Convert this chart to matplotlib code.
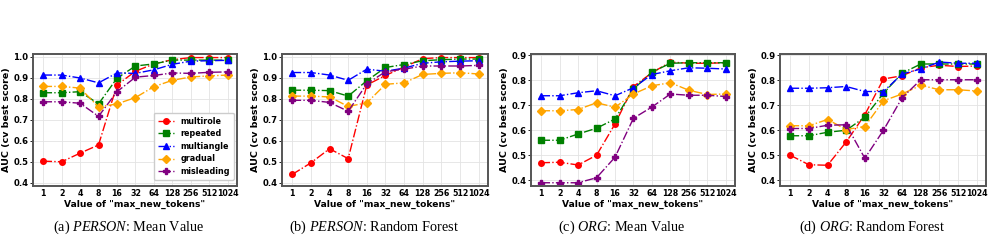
import matplotlib
matplotlib.use("Agg")
import matplotlib.pyplot as plt

plt.rcParams['font.family'] = ['DejaVu Sans']
plt.rcParams['mathtext.fontset'] = 'custom'
plt.rcParams['mathtext.rm'] = 'Liberation Serif'
plt.rcParams['mathtext.it'] = 'Liberation Serif:italic'

tokens = ["1", "2", "4", "8", "16", "32", "64", "128", "256", "512", "1024"]
series_names = ["multirole", "repeated", "multiangle", "gradual", "misleading"]

# (a) PERSON: Mean Value
a_multirole = [0.503, 0.500, 0.541, 0.580, 0.865, 0.930, 0.965, 0.985, 0.995, 0.995, 0.995]
a_repeated = [0.828, 0.828, 0.833, 0.775, 0.897, 0.955, 0.965, 0.983, 0.983, 0.983, 0.983]
a_multiangle = [0.912, 0.912, 0.898, 0.875, 0.922, 0.920, 0.937, 0.963, 0.978, 0.980, 0.982]
a_gradual = [0.858, 0.858, 0.850, 0.760, 0.775, 0.805, 0.857, 0.887, 0.903, 0.908, 0.912]
a_misleading = [0.785, 0.785, 0.778, 0.716, 0.833, 0.902, 0.910, 0.922, 0.920, 0.925, 0.927]

# (b) PERSON: Random Forest
b_multirole = [0.440, 0.495, 0.562, 0.515, 0.865, 0.910, 0.950, 0.990, 0.995, 0.995, 0.995]
b_repeated = [0.840, 0.840, 0.838, 0.812, 0.885, 0.948, 0.962, 0.980, 0.985, 0.988, 0.988]
b_multiangle = [0.924, 0.924, 0.912, 0.887, 0.940, 0.930, 0.945, 0.968, 0.975, 0.978, 0.980]
b_gradual = [0.812, 0.812, 0.808, 0.763, 0.780, 0.868, 0.875, 0.915, 0.920, 0.923, 0.917]
b_misleading = [0.792, 0.792, 0.782, 0.740, 0.870, 0.928, 0.940, 0.955, 0.955, 0.955, 0.958]

# (c) ORG: Mean Value
c_multirole = [0.470, 0.472, 0.461, 0.500, 0.625, 0.775, 0.830, 0.873, 0.868, 0.868, 0.870]
c_repeated = [0.560, 0.560, 0.585, 0.608, 0.645, 0.765, 0.832, 0.868, 0.870, 0.870, 0.870]
c_multiangle = [0.738, 0.738, 0.750, 0.758, 0.738, 0.770, 0.823, 0.838, 0.850, 0.848, 0.845]
c_gradual = [0.678, 0.678, 0.683, 0.710, 0.692, 0.745, 0.778, 0.790, 0.760, 0.743, 0.745]
c_misleading = [0.390, 0.390, 0.390, 0.410, 0.492, 0.648, 0.693, 0.745, 0.740, 0.740, 0.735]

# (d) ORG: Random Forest
d_multirole = [0.500, 0.462, 0.460, 0.553, 0.662, 0.805, 0.818, 0.850, 0.860, 0.855, 0.857]
d_repeated = [0.578, 0.578, 0.592, 0.600, 0.652, 0.748, 0.828, 0.865, 0.865, 0.865, 0.865]
d_multiangle = [0.768, 0.768, 0.770, 0.775, 0.755, 0.755, 0.825, 0.845, 0.873, 0.868, 0.868]
d_gradual = [0.618, 0.618, 0.643, 0.603, 0.615, 0.718, 0.745, 0.780, 0.762, 0.762, 0.757]
d_misleading = [0.607, 0.607, 0.620, 0.622, 0.488, 0.600, 0.730, 0.802, 0.802, 0.802, 0.802]

captions = [r"(a) $\it{PERSON}$: Mean Value", r"(b) $\it{PERSON}$: Random Forest",
            r"(c) $\it{ORG}$: Mean Value", r"(d) $\it{ORG}$: Random Forest"]

panels = [
    [a_multirole, a_repeated, a_multiangle, a_gradual, a_misleading],
    [b_multirole, b_repeated, b_multiangle, b_gradual, b_misleading],
    [c_multirole, c_repeated, c_multiangle, c_gradual, c_misleading],
    [d_multirole, d_repeated, d_multiangle, d_gradual, d_misleading],
]

colors = ["red", "green", "blue", "orange", "purple"]
markers = ["o", "s", "^", "D", "P"]
msizes = [4.0, 4.0, 4.2, 3.8, 4.4]

W, H = 992, 240
fig = plt.figure(figsize=(W / 100, H / 100), dpi=100)

axes_px = [(33, 237), (282, 488), (531, 735), (780, 986)]
top_px, bot_px = 54, 186
ylims = [(0.385, 1.012), (0.385, 1.012), (0.377, 0.905), (0.377, 0.905)]
yticks = [[0.4, 0.5, 0.6, 0.7, 0.8, 0.9, 1.0], [0.4, 0.5, 0.6, 0.7, 0.8, 0.9, 1.0],
          [0.4, 0.5, 0.6, 0.7, 0.8, 0.9], [0.4, 0.5, 0.6, 0.7, 0.8, 0.9]]
cap_x = [129, 374, 622, 872]

x = list(range(len(tokens)))
for i, (l, r) in enumerate(axes_px):
    ax = fig.add_axes([l / W, 1 - bot_px / H, (r - l) / W, (bot_px - top_px) / H])
    for s, name in enumerate(series_names):
        ax.plot(x, panels[i][s], linestyle='-.', color=colors[s], marker=markers[s],
                markersize=msizes[s], linewidth=1.0, label=name)
    ax.set_xlim(-0.55, 10.5)
    ax.set_ylim(*ylims[i])
    ax.set_xticks(x)
    ax.set_xticklabels(tokens, fontsize=5.7, fontweight='bold')
    ax.set_yticks(yticks[i])
    ax.set_yticklabels(["%.1f" % v for v in yticks[i]], fontsize=6.1, fontweight='bold')
    ax.tick_params(axis='y', length=2, width=0.6, pad=1.2, colors='black')
    ax.tick_params(axis='x', length=0, pad=2.5, colors='black')
    ax.grid(True, color='#e3e3e3', linewidth=0.6)
    ax.set_axisbelow(True)
    for sp in ax.spines.values():
        sp.set_color('#555555')
        sp.set_linewidth(1.4)
    ax.set_xlabel('Value of "max_new_tokens"', fontsize=6.6, fontweight='bold', labelpad=1.0)
    ax.set_ylabel('AUC (cv best score)', fontsize=6.8, fontweight='bold', labelpad=1.5)
    if i == 0:
        ax.legend(loc='lower right', bbox_to_anchor=(0.985, 0.045), prop={'size': 5.8, 'weight': 'bold'},
                  handlelength=2.0, borderaxespad=0.0, labelspacing=0.45, framealpha=1.0,
                  edgecolor='#cccccc', fancybox=True, borderpad=0.5)
    fig.text(cap_x[i] / W, 1 - 227 / H, captions[i], ha='center', va='center',
             fontsize=10.3, family='Liberation Serif')

fig.savefig("out.png", dpi=100)
